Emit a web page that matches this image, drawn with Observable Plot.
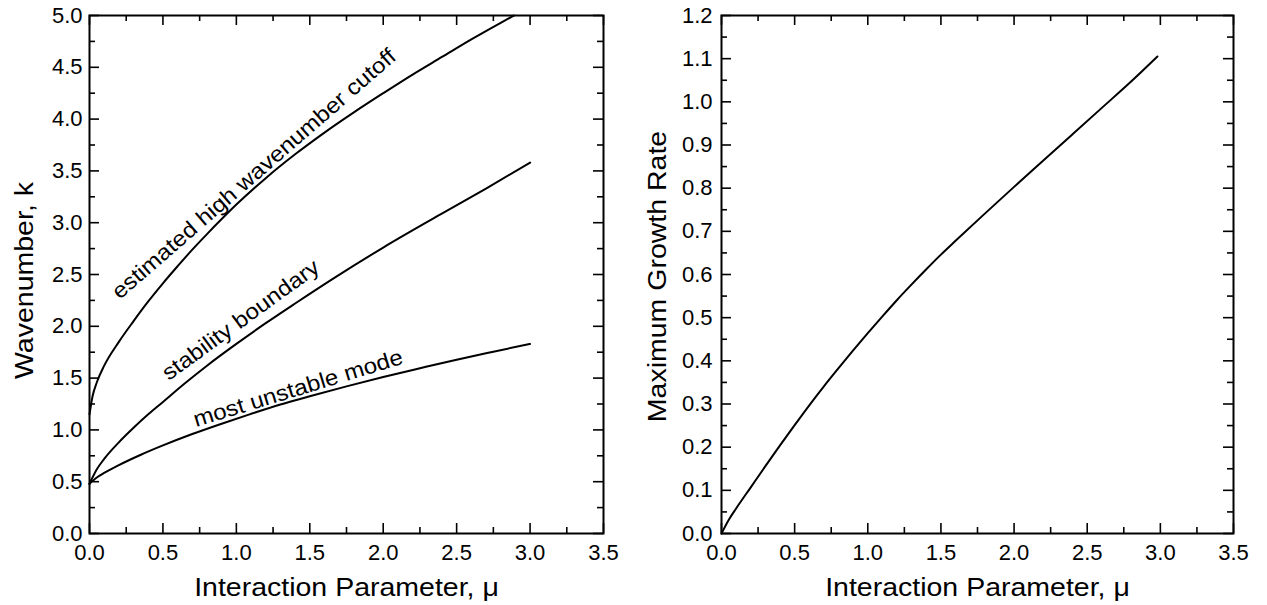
<!DOCTYPE html>
<html>
<head>
<meta charset="utf-8">
<script src="https://cdn.jsdelivr.net/npm/d3@7"></script>
<script src="https://cdn.jsdelivr.net/npm/@observablehq/plot@0.6"></script>
<style>
  html, body { margin: 0; padding: 0; background: #fff; }
  #wrap { display: flex; flex-direction: row; width: 1267px; height: 605px; }
  svg { display: block; }
</style>
</head>
<body>
<div id="wrap"></div>
<script>
// ---- Left panel data (Wavenumber k vs interaction parameter mu) ----
const cutoffMu = [0, 0.02, 0.05, 0.1, 0.2, 0.3, 0.4, 0.5, 0.6, 0.7, 0.8, 0.9, 1.0, 1.2, 1.4, 1.6, 1.8, 2.0, 2.2, 2.4, 2.6, 2.8, 2.89];
const cutoffK  = [1.15, 1.32, 1.46, 1.62, 1.85, 2.05, 2.24, 2.415, 2.58, 2.74, 2.89, 3.035, 3.175, 3.43, 3.66, 3.87, 4.065, 4.25, 4.43, 4.60, 4.77, 4.93, 5.0];

const stabMu = [0, 0.05, 0.1, 0.2, 0.3, 0.4, 0.5, 0.65, 0.8, 1.0, 1.2, 1.4, 1.67, 2.0, 2.39, 2.7, 3.0];
const stabK  = [0.48, 0.62, 0.72, 0.88, 1.02, 1.15, 1.27, 1.45, 1.62, 1.83, 2.03, 2.22, 2.47, 2.76, 3.08, 3.33, 3.58];

const modeMu = [0, 0.05, 0.1, 0.2, 0.35, 0.5, 0.7, 0.9, 1.1, 1.3, 1.5, 1.75, 2.0, 2.25, 2.5, 2.75, 3.0];
const modeK  = [0.48, 0.54, 0.585, 0.66, 0.76, 0.85, 0.96, 1.06, 1.155, 1.245, 1.325, 1.42, 1.51, 1.595, 1.678, 1.755, 1.83];

// curve labels
const labelText  = ["estimated high wavenumber cutoff", "stability boundary", "most unstable mode"];
const labelMu    = [1.12, 1.03, 1.42];
const labelK     = [3.47, 2.06, 1.40];
const labelAngle = [-41, -36, -17];

// ---- Right panel data (maximum growth rate vs mu) ----
const growthMu = [0, 0.05, 0.1, 0.2, 0.3, 0.4, 0.5, 0.6, 0.7, 0.8, 0.9, 1.0, 1.1, 1.2, 1.3, 1.4, 1.5, 1.6, 1.8, 2.0, 2.2, 2.4, 2.6, 2.8, 2.98];
const growthG  = [0, 0.032, 0.058, 0.107, 0.156, 0.204, 0.251, 0.297, 0.341, 0.383, 0.424, 0.464, 0.503, 0.541, 0.577, 0.612, 0.646, 0.678, 0.741, 0.803, 0.864, 0.925, 0.986, 1.047, 1.105];

// ---- ticks ----
const xMajor = [0, 0.5, 1.0, 1.5, 2.0, 2.5, 3.0, 3.5];
const xMinor = [0.25, 0.75, 1.25, 1.75, 2.25, 2.75, 3.25];
const kMajor = [0, 0.5, 1.0, 1.5, 2.0, 2.5, 3.0, 3.5, 4.0, 4.5, 5.0];
const kMinor = [0.25, 0.75, 1.25, 1.75, 2.25, 2.75, 3.25, 3.75, 4.25, 4.75];
const gMajor = [0, 0.1, 0.2, 0.3, 0.4, 0.5, 0.6, 0.7, 0.8, 0.9, 1.0, 1.1, 1.2];
const gMinor = [0.05, 0.15, 0.25, 0.35, 0.45, 0.55, 0.65, 0.75, 0.85, 0.95, 1.05, 1.15];

const xTitle = "Interaction Parameter, μ";
const leftTitle = "Wavenumber, k";
const rightTitle = "Maximum Growth Rate";

const FONT = "'Liberation Sans', Arial, Helvetica, sans-serif";
const fmt = d3.format(".1f");
const MAJ = 10, MIN = 6;
const TICK_FS = 22, TITLE_FS = 25, LABEL_FS = 22;
const TITLE_STRETCH = 1.14, LABEL_STRETCH = 1.1;

function zip(xs, ys, kx, ky) { return xs.map((v, i) => ({[kx]: v, [ky]: ys[i]})); }

function innerTicks(W, H, xMaj, xMin, yMaj, yMin) {
  const marks = [];
  for (const [arr, len] of [[xMaj, MAJ], [xMin, MIN]]) {
    marks.push(Plot.ruleX(arr, {insetTop: H - len, stroke: "black", strokeWidth: 1.6}));
    marks.push(Plot.ruleX(arr, {insetBottom: H - len, stroke: "black", strokeWidth: 1.6}));
  }
  for (const [arr, len] of [[yMaj, MAJ], [yMin, MIN]]) {
    marks.push(Plot.ruleY(arr, {insetRight: W - len, stroke: "black", strokeWidth: 1.6}));
    marks.push(Plot.ruleY(arr, {insetLeft: W - len, stroke: "black", strokeWidth: 1.6}));
  }
  return marks;
}

const mTop = 15, mBottom = 72;
const plotH = 605;

// ---- Left plot ----
const lw = 620, lml = 89, lmr = 17;
const lFW = lw - lml - lmr, lFH = plotH - mTop - mBottom;
const leftPlot = Plot.plot({
  width: lw, height: plotH,
  marginLeft: lml, marginRight: lmr, marginTop: mTop, marginBottom: mBottom,
  style: {fontFamily: FONT, color: "black", background: "white"},
  x: {domain: [0, 3.5], label: null},
  y: {domain: [0, 5], label: null},
  marks: [
    ...innerTicks(lFW, lFH, xMajor, xMinor, kMajor, kMinor),
    Plot.frame({stroke: "black", strokeWidth: 2}),
    Plot.line(zip(cutoffMu, cutoffK, "mu", "k"), {x: "mu", y: "k", stroke: "black", strokeWidth: 2, curve: "monotone-x"}),
    Plot.line(zip(stabMu, stabK, "mu", "k"), {x: "mu", y: "k", stroke: "black", strokeWidth: 2, curve: "monotone-x"}),
    Plot.line(zip(modeMu, modeK, "mu", "k"), {x: "mu", y: "k", stroke: "black", strokeWidth: 2, curve: "monotone-x"}),
    Plot.text(labelText.map((t, i) => ({t, mu: labelMu[i], k: labelK[i], a: labelAngle[i]})),
      {x: "mu", y: "k", text: "t", rotate: "a", fontSize: LABEL_FS, fill: "black", textAnchor: "middle", lineAnchor: "middle", className: "curve-label"}),
    Plot.axisX({ticks: xMajor, tickSize: 0, tickPadding: 11, tickFormat: fmt, fontSize: TICK_FS, label: null, fill: "black"}),
    Plot.axisY({ticks: kMajor, tickSize: 0, tickPadding: 7, tickFormat: fmt, fontSize: TICK_FS, label: null, fill: "black"}),
    Plot.text([xTitle], {frameAnchor: "bottom", dy: 62, lineAnchor: "bottom", textAnchor: "middle", fontSize: TITLE_FS, fill: "black", className: "axis-title"}),
    Plot.text([leftTitle], {frameAnchor: "left", dx: -57, dy: 6, rotate: -90, textAnchor: "middle", lineAnchor: "bottom", fontSize: TITLE_FS, fill: "black", className: "axis-title"})
  ]
});

// ---- Right plot ----
const rw = 647, rml = 101, rmr = 34;
const rFW = rw - rml - rmr, rFH = plotH - mTop - mBottom;
const rightPlot = Plot.plot({
  width: rw, height: plotH,
  marginLeft: rml, marginRight: rmr, marginTop: mTop, marginBottom: mBottom,
  style: {fontFamily: FONT, color: "black", background: "white"},
  x: {domain: [0, 3.5], label: null},
  y: {domain: [0, 1.2], label: null},
  marks: [
    ...innerTicks(rFW, rFH, xMajor, xMinor, gMajor, gMinor),
    Plot.frame({stroke: "black", strokeWidth: 2}),
    Plot.line(zip(growthMu, growthG, "mu", "g"), {x: "mu", y: "g", stroke: "black", strokeWidth: 2, curve: "monotone-x"}),
    Plot.axisX({ticks: xMajor, tickSize: 0, tickPadding: 11, tickFormat: fmt, fontSize: TICK_FS, label: null, fill: "black"}),
    Plot.axisY({ticks: gMajor, tickSize: 0, tickPadding: 9, tickFormat: fmt, fontSize: TICK_FS, label: null, fill: "black"}),
    Plot.text([xTitle], {frameAnchor: "bottom", dy: 62, lineAnchor: "bottom", textAnchor: "middle", fontSize: TITLE_FS, fill: "black", className: "axis-title"}),
    Plot.text([rightTitle], {frameAnchor: "left", dx: -56, dy: 2, rotate: -90, textAnchor: "middle", lineAnchor: "bottom", fontSize: TITLE_FS, fill: "black", className: "axis-title"})
  ]
});

document.getElementById("wrap").append(leftPlot, rightPlot);

// widen the lettering (the original typeface is wider than Liberation Sans) using textLength
function stretch(svg, selector, sx) {
  svg.querySelectorAll(selector).forEach(t => {
    const len = t.getComputedTextLength();
    if (len > 0) {
      t.setAttribute("textLength", (len * sx).toFixed(1));
      t.setAttribute("lengthAdjust", "spacingAndGlyphs");
    }
  });
}
for (const svg of [leftPlot, rightPlot]) {
  stretch(svg, ".axis-title text, text.axis-title", TITLE_STRETCH);
  stretch(svg, ".curve-label text, text.curve-label", LABEL_STRETCH);
}
</script>
</body>
</html>
